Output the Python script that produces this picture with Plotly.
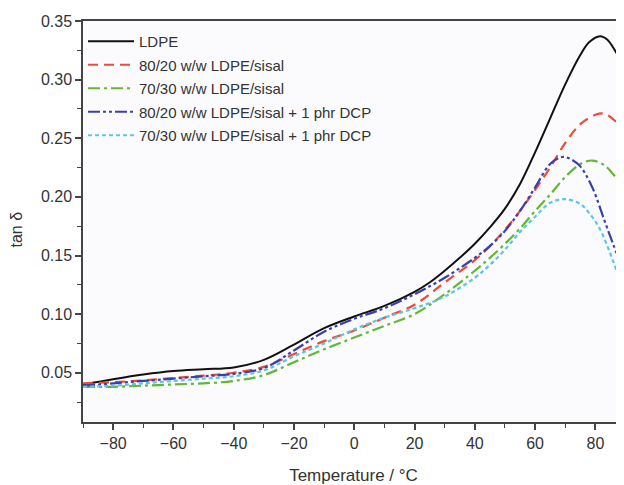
import plotly.graph_objects as go

# Temperature grid (°C) for each series
t_ldpe = [-90, -80, -70, -60, -50, -40, -30, -20, -10, 0, 10, 20, 25, 30, 35, 40, 45, 50, 55, 60, 65, 70, 75, 78, 81.5, 84, 86, 88]
ldpe = [0.040, 0.0445, 0.0485, 0.0515, 0.053, 0.0545, 0.061, 0.074, 0.088, 0.098, 0.107, 0.119, 0.127, 0.137, 0.148, 0.160, 0.174, 0.190, 0.211, 0.238, 0.267, 0.296, 0.321, 0.332, 0.337, 0.334, 0.327, 0.318]

t_8020 = [-90, -80, -70, -60, -50, -40, -30, -20, -10, 0, 10, 20, 30, 40, 45, 50, 55, 60, 65, 70, 75, 80, 83, 86, 88]
s_8020 = [0.041, 0.042, 0.0435, 0.0455, 0.0475, 0.050, 0.055, 0.066, 0.077, 0.086, 0.097, 0.108, 0.127, 0.146, 0.158, 0.172, 0.188, 0.206, 0.225, 0.246, 0.262, 0.270, 0.271, 0.266, 0.261]

t_7030 = [-90, -80, -70, -60, -50, -40, -30, -20, -10, 0, 10, 20, 30, 40, 45, 50, 55, 60, 65, 70, 75, 79, 83, 86, 88]
s_7030 = [0.038, 0.038, 0.039, 0.040, 0.041, 0.043, 0.048, 0.059, 0.070, 0.080, 0.090, 0.100, 0.117, 0.137, 0.148, 0.160, 0.173, 0.188, 0.202, 0.217, 0.228, 0.231, 0.227, 0.219, 0.213]

t_8020d = [-90, -80, -70, -60, -50, -40, -30, -20, -10, 0, 10, 20, 30, 40, 45, 50, 55, 60, 65, 69, 72, 75, 79, 83, 86, 88]
s_8020d = [0.039, 0.041, 0.043, 0.045, 0.047, 0.049, 0.054, 0.069, 0.085, 0.096, 0.105, 0.117, 0.131, 0.148, 0.158, 0.171, 0.188, 0.208, 0.228, 0.234, 0.232, 0.226, 0.208, 0.180, 0.159, 0.146]

t_7030d = [-90, -80, -70, -60, -50, -40, -30, -20, -10, 0, 10, 20, 30, 40, 45, 50, 55, 60, 65, 70, 75, 78, 81, 84, 87]
s_7030d = [0.038, 0.039, 0.041, 0.043, 0.045, 0.047, 0.052, 0.064, 0.075, 0.087, 0.097, 0.105, 0.115, 0.131, 0.142, 0.155, 0.170, 0.183, 0.195, 0.198, 0.194, 0.186, 0.175, 0.158, 0.137]

names = ["LDPE", "80/20 w/w LDPE/sisal", "70/30 w/w LDPE/sisal",
         "80/20 w/w LDPE/sisal + 1 phr DCP", "70/30 w/w LDPE/sisal + 1 phr DCP"]
xs = [t_ldpe, t_8020, t_7030, t_8020d, t_7030d]
ys = [ldpe, s_8020, s_7030, s_8020d, s_7030d]
colors = ["#111111", "#ef4a36", "#62b832", "#3b3fae", "#5cc6e2"]
dashes = ["solid", "10px,6px", "12px,4px,3px,4px", "12px,3px,3px,3px,3px,3px", "4px,3px"]
widths = [2, 2.2, 2.2, 2.2, 2.2]

fig = go.Figure()
for i in range(5):
    fig.add_trace(go.Scatter(
        x=xs[i], y=ys[i], name=names[i], mode="lines",
        line=dict(color=colors[i], dash=dashes[i], width=widths[i], shape="spline", smoothing=1.0),
        legendgroup=str(i),
    ))

FONT = "Liberation Sans, Arial, sans-serif"
axis_font = dict(family=FONT, size=16, color="#333333")

# Page body has an 8px default margin, so the figure is sized 8px smaller.
fig.update_layout(
    width=616, height=477,
    margin=dict(l=75, r=0, t=13, b=63),
    paper_bgcolor="#ffffff",
    plot_bgcolor="#fbfbfd",
    font=dict(family=FONT, color="#333333"),
    showlegend=True,
    legend=dict(
        x=0.0, y=0.99, xanchor="left", yanchor="top",
        bgcolor="rgba(0,0,0,0)", borderwidth=0,
        font=dict(family=FONT, size=15, color="#333333"),
        traceorder="grouped", tracegroupgap=1, itemwidth=46,
    ),
    xaxis=dict(
        range=[-90, 89.5], tick0=-80, dtick=20, showgrid=False, zeroline=False,
        showline=True, linecolor="#444444", linewidth=1.5, mirror=True,
        ticks="outside", ticklen=6, tickwidth=1.5, tickcolor="#444444",
        minor=dict(ticks="outside", ticklen=4, tickwidth=1.2, tickcolor="#444444", dtick=10, tick0=-90, showgrid=False),
        tickfont=axis_font,
        title=dict(text="Temperature / °C", font=dict(family=FONT, size=17, color="#333333"), standoff=18),
    ),
    yaxis=dict(
        range=[0.008, 0.35], tick0=0.05, dtick=0.05, tickformat=".2f", showgrid=False, zeroline=False,
        showline=True, linecolor="#444444", linewidth=1.5, mirror=False,
        ticks="outside", ticklen=6, tickwidth=1.5, tickcolor="#444444",
        minor=dict(ticks="outside", ticklen=4, tickwidth=1.2, tickcolor="#444444", dtick=0.025, tick0=0.025, showgrid=False),
        tickfont=axis_font,
    ),
    annotations=[dict(
        text="tan δ", xref="paper", yref="paper", x=0, y=0.48, xshift=-66,
        xanchor="center", yanchor="middle", textangle=-90, showarrow=False,
        font=dict(family=FONT, size=16, color="#333333"),
    )],
)

fig.write_html("out.html")
